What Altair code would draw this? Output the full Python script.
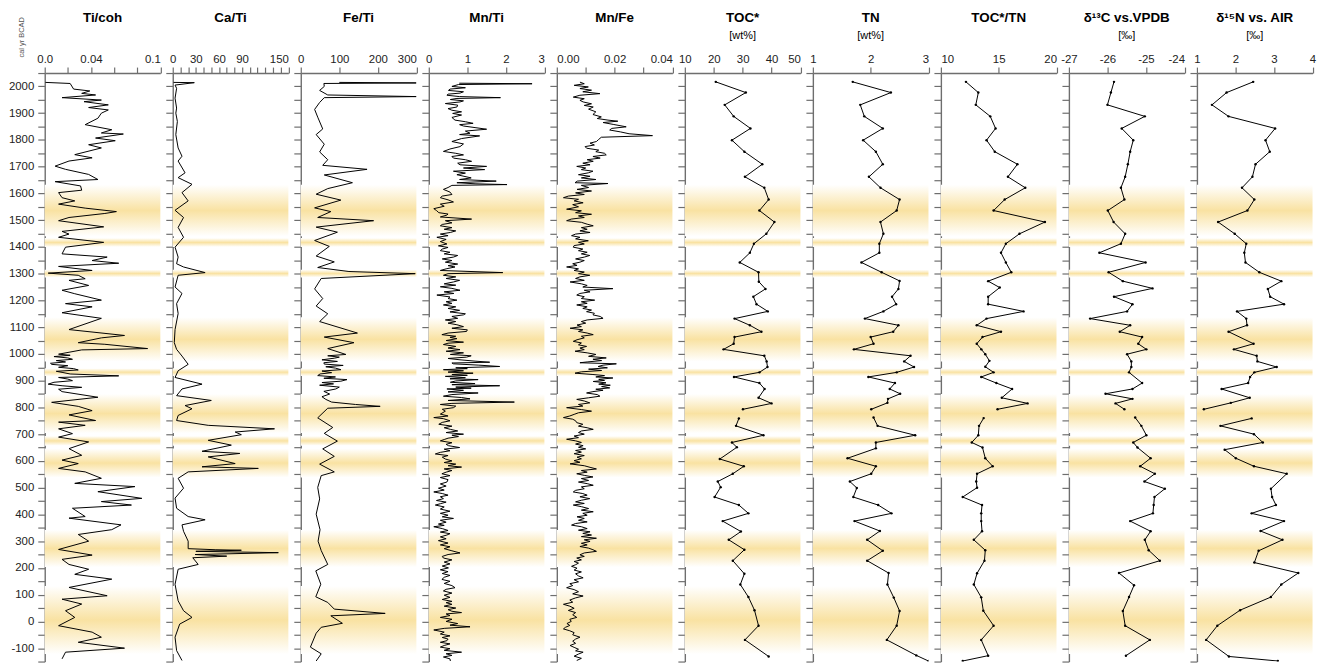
import altair as alt
import pandas as pd

FONT = "Arial"
W = 116.5
H = 593
Y_DOMAIN = [-150, 2050]
AXIS_GREY = "#6e6e6e"
BAND_COLOR = "#f9e2a2"

# ---------------- background bands (cal yr) ----------------
band_start = [1632, 1433, 1315, 1137, 946, 850, 693, 646, 342, 132]
band_end = [1440, 1400, 1286, 972, 917, 704, 657, 538, 203, -122]

# ---------------- high resolution series ----------------
ti_coh_year = [2015, 2011, 1990, 1983, 1974, 1968, 1958, 1949, 1943, 1931, 1921, 1912, 1900, 1881, 1857, 1838,
               1826, 1822, 1807, 1797, 1782, 1770, 1745, 1733, 1721, 1702, 1690, 1671, 1652, 1644, 1628, 1612,
               1603, 1584, 1572, 1560, 1545, 1532, 1525, 1510, 1498, 1475, 1458, 1448, 1436, 1417, 1399, 1374,
               1362, 1349, 1339, 1327, 1312, 1302, 1294, 1281, 1275, 1256, 1238, 1225, 1201, 1188, 1176, 1154,
               1133, 1091, 1069, 1060, 1042, 1036, 1020, 1015, 999, 995, 990, 985, 980, 975, 970, 965, 961, 956,
               950, 945, 940, 935, 931, 925, 918, 912, 906, 900, 894, 887, 881, 875, 868, 859, 838, 819, 804,
               788, 772, 751, 745, 733, 720, 702, 689, 671, 646, 621, 603, 590, 572, 559, 535, 516, 504, 485,
               460, 448, 435, 423, 392, 386, 361, 343, 325, 300, 269, 248, 232, 213, 195, 176, 158, 127, 96, 83,
               65, 40, 15, -16, -40, -59, -78, -100, -115, -140]
ti_coh_val = [0.0006, 0.022, 0.025, 0.039, 0.032, 0.044, 0.015, 0.049, 0.034, 0.055, 0.038, 0.055, 0.049, 0.046,
              0.035, 0.058, 0.049, 0.068, 0.044, 0.061, 0.038, 0.049, 0.026, 0.041, 0.021, 0.009, 0.018, 0.038,
              0.046, 0.009, 0.031, 0.032, 0.012, 0.015, 0.026, 0.012, 0.035, 0.062, 0.052, 0.021, 0.012, 0.051,
              0.015, 0.021, 0.012, 0.051, 0.018, 0.015, 0.054, 0.041, 0.064, 0.012, 0.041, 0.003, 0.029, 0.035,
              0.021, 0.038, 0.015, 0.026, 0.049, 0.018, 0.041, 0.015, 0.049, 0.021, 0.069, 0.049, 0.029, 0.052,
              0.089, 0.032, 0.012, 0.022, 0.008, 0.020, 0.024, 0.010, 0.018, 0.005, 0.006, 0.020, 0.012, 0.025,
              0.029, 0.010, 0.015, 0.022, 0.064, 0.012, 0.020, 0.024, 0.008, 0.003, 0.015, 0.032, 0.012, 0.015,
              0.046, 0.006, 0.029, 0.041, 0.021, 0.044, 0.012, 0.035, 0.012, 0.024, 0.012, 0.038, 0.021, 0.032,
              0.015, 0.029, 0.012, 0.035, 0.049, 0.026, 0.078, 0.046, 0.084, 0.049, 0.075, 0.024, 0.035, 0.021,
              0.066, 0.058, 0.029, 0.038, 0.012, 0.041, 0.015, 0.021, 0.038, 0.026, 0.058, 0.021, 0.054, 0.015,
              0.032, 0.018, 0.026, 0.012, 0.041, 0.049, 0.029, 0.069, 0.018, 0.015]

ca_ti_year = [2015, 2014, 2005, 1993, 1956, 1919, 1900, 1869, 1820, 1770, 1739, 1721, 1677, 1659, 1634, 1603,
              1572, 1537, 1510, 1473, 1436, 1399, 1362, 1337, 1325, 1304, 1294, 1250, 1226, 1188, 1151, 1091,
              1042, 1017, 992, 961, 937, 912, 887, 869, 844, 826, 807, 795, 770, 751, 733, 720, 708, 698, 677,
              659, 636, 628, 615, 590, 578, 572, 559, 535, 498, 461, 423, 392, 380, 361, 337, 300, 272, 268,
              266, 262, 257, 250, 244, 238, 213, 195, 139, 77, 40, 15, -10, -59, -109, -146]
ca_ti_val = [1, 28, 3, 5, 3, 5, 4, 6, 4, 7, 12, 7, 16, 7, 25, 12, 20, 3, 14, 7, 14, 3, 7, 5, 14, 42, 7, 3, 12,
             5, 7, 3, 2, 5, 12, 20, 7, 3, 38, 12, 5, 50, 16, 25, 7, 5, 46, 132, 81, 89, 46, 76, 38, 87, 46, 81,
             38, 111, 20, 7, 14, 3, 5, 20, 42, 12, 14, 20, 20, 55, 89, 30, 137, 29, 70, 26, 33, 7, 3, 7, 14, 25,
             9, 3, 5, 12]

fe_ti_year = [2015, 2013, 2011, 2000, 1985, 1968, 1962, 1958, 1940, 1914, 1885, 1841, 1820, 1784, 1755, 1726,
              1705, 1690, 1669, 1640, 1618, 1597, 1575, 1546, 1532, 1510, 1498, 1474, 1455, 1424, 1402, 1366,
              1344, 1323, 1308, 1300, 1282, 1243, 1207, 1179, 1150, 1121, 1078, 1063, 1042, 1020, 998, 993, 988,
              984, 978, 972, 967, 962, 957, 952, 947, 941, 936, 930, 925, 919, 914, 909, 904, 898, 893, 888,
              883, 876, 869, 860, 850, 840, 830, 820, 811, 804, 797, 761, 725, 703, 674, 645, 617, 588, 559,
              545, 501, 458, 401, 343, 300, 265, 213, 189, 139, 92, 71, 46, 30, 21, -7, -22, -44, -96, -121, -148]
fe_ti_val = [100, 300, 60, 61, 49, 70, 300, 61, 49, 36, 44, 57, 40, 61, 49, 70, 57, 172, 61, 134, 70, 40, 104,
             36, 78, 44, 189, 40, 95, 36, 74, 40, 87, 44, 125, 297, 53, 36, 57, 40, 70, 49, 147, 61, 138, 70,
             117, 70, 100, 87, 55, 95, 60, 61, 110, 65, 90, 104, 55, 80, 50, 44, 90, 60, 120, 104, 55, 85, 49,
             100, 91, 60, 75, 55, 65, 80, 142, 206, 70, 44, 83, 61, 95, 57, 87, 49, 87, 53, 44, 49, 40, 50, 45,
             53, 70, 39, 52, 39, 70, 87, 219, 78, 108, 53, 40, 25, 53, 40]

mn_ti_year = [2012, 2010, 2007, 2000, 1995, 1990, 1985, 1980, 1975, 1971, 1967, 1962, 1958, 1955, 1951, 1946,
              1942, 1936, 1930, 1923, 1917, 1911, 1905, 1899, 1893, 1884, 1874, 1868, 1862, 1857, 1852, 1846,
              1840, 1833, 1825, 1820, 1815, 1805, 1794, 1785, 1775, 1766, 1757, 1750, 1744, 1738, 1732, 1726,
              1720, 1713, 1707, 1701, 1695, 1689, 1683, 1676, 1670, 1658, 1652, 1646, 1640, 1636, 1633, 1630,
              1622, 1615, 1605, 1596, 1590, 1584, 1576, 1568, 1560, 1552, 1543, 1536, 1528, 1523, 1519, 1512,
              1504, 1498, 1490, 1484, 1479, 1472, 1466, 1460, 1454, 1448, 1442, 1436, 1428, 1420, 1411, 1404,
              1398, 1392, 1386, 1380, 1374, 1368, 1362, 1355, 1349, 1343, 1336, 1330, 1325, 1318, 1312, 1304,
              1300, 1294, 1288, 1282, 1275, 1269, 1262, 1257, 1251, 1245, 1238, 1232, 1226, 1220, 1213, 1207,
              1201, 1195, 1189, 1183, 1176, 1170, 1163, 1157, 1150, 1146, 1140, 1133, 1127, 1121, 1115, 1109,
              1102, 1096, 1090, 1084, 1078, 1072, 1066, 1062, 1057, 1050, 1044, 1040, 1035, 1028, 1022, 1016,
              1010, 1004, 998, 993, 988, 983, 978, 973, 969, 966, 963, 958, 953, 948, 945, 941, 937, 932, 928,
              923, 920, 916, 911, 907, 904, 899, 894, 889, 885, 881, 876, 872, 869, 864, 858, 854, 848, 842,
              837, 832, 826, 820, 815, 811, 805, 799, 793, 786, 775, 768, 762, 758, 750, 744, 737, 730, 724,
              718, 712, 706, 700, 696, 691, 685, 680, 675, 668, 662, 657, 650, 644, 638, 632, 626, 620, 614,
              607, 600, 594, 588, 582, 577, 570, 564, 558, 552, 545, 538, 530, 521, 514, 506, 498, 491, 484,
              478, 472, 466, 459, 452, 446, 440, 435, 428, 420, 412, 404, 397, 391, 385, 378, 371, 364, 359,
              354, 347, 340, 334, 328, 323, 316, 309, 302, 293, 286, 279, 272, 264, 256, 250, 243, 237, 230,
              222, 215, 207, 200, 193, 186, 179, 172, 165, 157, 150, 142, 134, 126, 120, 114, 106, 98, 90, 82,
              75, 70, 64, 57, 50, 44, 38, 33, 28, 22, 15, 8, 0, -8, -14, -20, -26, -32, -40, -47, -54, -60, -66,
              -72, -78, -84, -90, -96, -102, -108, -115, -121, -127, -133, -140, -148]
mn_ti_val = [0.79, 2.68, 0.77, 0.6, 0.95, 0.55, 0.51, 0.9, 0.81, 0.5, 0.47, 0.8, 1.86, 0.73, 0.56, 0.9, 0.81,
             0.43, 0.75, 0.73, 0.5, 0.6, 0.85, 0.62, 0.85, 0.6, 0.68, 0.95, 1.15, 0.8, 0.9, 1.2, 1.5, 0.95, 1.07,
             0.8, 1.32, 0.85, 0.6, 0.9, 0.81, 0.55, 0.38, 0.7, 0.9, 0.6, 0.64, 0.95, 1.11, 0.75, 0.81, 1.5, 0.9,
             1.45, 0.64, 0.95, 0.73, 1.1, 0.8, 1.75, 0.73, 1.2, 2.03, 0.6, 0.5, 0.38, 0.55, 0.6, 0.35, 0.3, 0.5,
             0.64, 0.3, 0.4, 0.13, 0.2, 0.26, 0.5, 0.47, 0.3, 1.11, 0.43, 0.6, 0.35, 0.3, 0.6, 0.4, 0.7, 0.56,
             0.3, 0.5, 0.21, 0.45, 0.3, 0.47, 0.25, 0.5, 0.35, 0.3, 0.55, 0.4, 0.75, 0.64, 0.35, 0.6, 0.43, 0.75,
             0.5, 0.68, 0.45, 0.3, 1.92, 0.5, 0.38, 0.7, 0.45, 0.8, 0.64, 0.4, 0.7, 0.3, 0.6, 0.81, 0.4, 0.65,
             0.21, 0.55, 0.5, 0.73, 0.45, 0.6, 0.38, 0.7, 0.5, 0.8, 0.55, 0.95, 0.9, 0.6, 0.75, 0.43, 0.7, 0.5,
             0.73, 0.9, 0.6, 1.0, 0.98, 0.5, 0.34, 0.7, 0.55, 0.73, 0.45, 0.9, 0.5, 0.38, 0.7, 0.5, 0.81, 0.45,
             0.9, 0.56, 1.1, 0.98, 0.5, 0.81, 1.2, 1.58, 0.6, 0.64, 1.3, 1.84, 0.7, 1.0, 0.38, 0.9, 0.5, 1.15,
             0.6, 1.0, 0.43, 0.95, 0.55, 1.28, 0.7, 0.56, 1.2, 0.6, 1.84, 0.7, 1.1, 0.47, 0.9, 0.5, 1.28, 0.6,
             0.38, 0.85, 1.07, 0.5, 2.22, 0.6, 0.3, 0.7, 0.64, 0.35, 0.43, 0.3, 0.5, 0.13, 0.38, 0.55, 0.35,
             0.26, 0.6, 0.4, 0.56, 0.75, 0.45, 0.9, 0.6, 0.77, 0.5, 0.4, 0.3, 0.6, 0.45, 0.51, 0.8, 0.4, 0.55,
             0.3, 0.17, 0.5, 0.35, 0.43, 0.6, 0.4, 0.7, 0.5, 0.85, 0.4, 0.6, 0.45, 0.34, 0.55, 0.3, 0.5, 0.47,
             0.3, 0.45, 0.25, 0.4, 0.13, 0.35, 0.5, 0.3, 0.38, 0.2, 0.45, 0.3, 0.17, 0.4, 0.3, 0.55, 0.3, 0.5,
             0.35, 0.64, 0.3, 0.45, 0.25, 0.4, 0.13, 0.35, 0.5, 0.3, 0.55, 0.47, 0.3, 0.45, 0.25, 0.5, 0.3,
             0.55, 0.4, 0.6, 0.81, 0.5, 0.35, 0.38, 0.6, 0.4, 0.55, 0.35, 0.51, 0.3, 0.5, 0.35, 0.55, 0.4, 0.34,
             0.55, 0.4, 0.6, 0.68, 0.45, 0.38, 0.6, 0.4, 0.55, 0.35, 0.6, 0.45, 0.6, 0.4, 0.7, 0.5, 0.6, 0.85,
             0.45, 0.55, 0.3, 0.6, 0.45, 0.75, 0.55, 1.07, 0.4, 0.13, 0.4, 0.3, 0.55, 0.35, 0.5, 0.47, 0.3, 0.55,
             0.4, 0.3, 0.55, 0.4, 0.85, 0.45, 0.6, 0.38, 0.55, 0.56]

mn_fe_year = [2016, 2010, 2004, 1998, 1992, 1986, 1980, 1973, 1967, 1960, 1954, 1948, 1942, 1935, 1929, 1923,
              1915, 1905, 1895, 1886, 1880, 1874, 1870, 1865, 1858, 1849, 1843, 1837, 1830, 1823, 1816, 1810,
              1802, 1794, 1788, 1781, 1775, 1769, 1762, 1756, 1750, 1744, 1738, 1732, 1726, 1720, 1713, 1707,
              1701, 1695, 1689, 1683, 1677, 1670, 1664, 1658, 1652, 1646, 1640, 1637, 1630, 1622, 1615, 1609,
              1602, 1596, 1590, 1584, 1578, 1572, 1565, 1558, 1550, 1541, 1535, 1528, 1522, 1516, 1510, 1504,
              1498, 1492, 1485, 1479, 1472, 1466, 1460, 1454, 1448, 1442, 1436, 1430, 1423, 1417, 1411, 1405,
              1399, 1392, 1386, 1380, 1374, 1368, 1362, 1355, 1349, 1343, 1337, 1331, 1325, 1318, 1312, 1306,
              1300, 1294, 1288, 1282, 1275, 1269, 1262, 1256, 1250, 1244, 1238, 1232, 1226, 1220, 1214, 1207,
              1201, 1195, 1189, 1183, 1176, 1170, 1164, 1158, 1152, 1146, 1140, 1133, 1127, 1121, 1115, 1108,
              1102, 1096, 1090, 1084, 1078, 1072, 1066, 1060, 1053, 1047, 1041, 1034, 1028, 1022, 1016, 1010,
              1004, 998, 991, 985, 980, 975, 970, 967, 963, 958, 953, 948, 943, 938, 933, 928, 923, 919, 914,
              910, 905, 901, 897, 892, 887, 883, 878, 873, 868, 864, 859, 854, 848, 842, 836, 830, 824, 817,
              811, 805, 799, 792, 786, 780, 774, 768, 762, 756, 750, 743, 737, 730, 724, 718, 712, 706, 700,
              693, 687, 681, 675, 669, 663, 657, 651, 645, 639, 633, 627, 620, 614, 608, 601, 595, 589, 582,
              576, 570, 564, 558, 552, 546, 540, 534, 527, 521, 515, 509, 503, 496, 490, 484, 478, 472, 466,
              459, 453, 447, 441, 435, 429, 422, 416, 410, 404, 397, 391, 385, 378, 372, 366, 360, 354, 347,
              341, 335, 329, 323, 317, 311, 305, 299, 292, 286, 280, 274, 268, 262, 256, 249, 243, 237, 230,
              224, 218, 212, 206, 199, 192, 185, 178, 170, 163, 156, 148, 141, 134, 126, 119, 111, 103, 95, 88,
              80, 72, 64, 57, 49, 41, 33, 25, 15, 8, 0, -8, -15, -22, -28, -35, -42, -50, -59, -66, -74, -82,
              -90, -97, -104, -110, -115, -122, -130, -138, -146]
mn_fe_val = [0.008, 0.0095, 0.006, 0.0109, 0.008, 0.012, 0.009, 0.0149, 0.008, 0.0057, 0.0095, 0.008, 0.0091,
             0.012, 0.0095, 0.0126, 0.011, 0.0135, 0.0125, 0.0154, 0.014, 0.0177, 0.0211, 0.016, 0.0195, 0.024,
             0.019, 0.0183, 0.022, 0.025, 0.0331, 0.0154, 0.0145, 0.0137, 0.0115, 0.013, 0.0098, 0.0103, 0.0145,
             0.0135, 0.0165, 0.0171, 0.0125, 0.015, 0.0105, 0.0126, 0.009, 0.0115, 0.0069, 0.01, 0.0085, 0.0125,
             0.0109, 0.0075, 0.0115, 0.0085, 0.0135, 0.0071, 0.0063, 0.0177, 0.0085, 0.011, 0.007, 0.012,
             0.0065, 0.0095, 0.004, 0.0023, 0.0075, 0.006, 0.0091, 0.0055, 0.0075, 0.0034, 0.0085, 0.0065,
             0.012, 0.0075, 0.0095, 0.005, 0.0034, 0.0085, 0.0105, 0.0126, 0.0085, 0.0105, 0.008, 0.0115,
             0.0065, 0.0051, 0.008, 0.0065, 0.0109, 0.0075, 0.0095, 0.006, 0.0057, 0.009, 0.0075, 0.0105,
             0.0085, 0.0114, 0.0095, 0.0065, 0.0095, 0.008, 0.0055, 0.007, 0.0034, 0.0075, 0.006, 0.0095,
             0.0075, 0.0114, 0.008, 0.0065, 0.0095, 0.0046, 0.0085, 0.0105, 0.009, 0.0194, 0.0095, 0.0115,
             0.008, 0.0069, 0.0095, 0.0085, 0.0131, 0.0085, 0.0105, 0.0069, 0.0105, 0.009, 0.012, 0.0103,
             0.013, 0.0125, 0.015, 0.016, 0.0105, 0.0085, 0.01, 0.007, 0.0085, 0.0046, 0.009, 0.0075, 0.0105,
             0.0126, 0.0085, 0.0095, 0.007, 0.0057, 0.0085, 0.0075, 0.0103, 0.008, 0.0095, 0.0063, 0.0105,
             0.0135, 0.011, 0.0171, 0.0125, 0.0155, 0.0105, 0.008, 0.0206, 0.016, 0.0143, 0.0175, 0.011,
             0.0155, 0.0085, 0.0063, 0.0125, 0.0165, 0.0135, 0.0194, 0.0145, 0.0165, 0.0126, 0.017, 0.0145,
             0.0185, 0.0155, 0.0183, 0.0135, 0.016, 0.0125, 0.0103, 0.014, 0.0149, 0.011, 0.0069, 0.0095,
             0.0114, 0.0075, 0.009, 0.0034, 0.0085, 0.012, 0.0075, 0.006, 0.0045, 0.0023, 0.0055, 0.0065,
             0.0069, 0.009, 0.0075, 0.0105, 0.0126, 0.0085, 0.0075, 0.0095, 0.006, 0.0075, 0.0034, 0.0065,
             0.0085, 0.0065, 0.0091, 0.0075, 0.01, 0.0065, 0.0085, 0.006, 0.0095, 0.007, 0.0085, 0.006, 0.008,
             0.0046, 0.0095, 0.0115, 0.0137, 0.0085, 0.0105, 0.0069, 0.0095, 0.0125, 0.0085, 0.011, 0.0075,
             0.0105, 0.0126, 0.0085, 0.0095, 0.0065, 0.0057, 0.009, 0.0105, 0.008, 0.0114, 0.0085, 0.0065,
             0.0095, 0.0057, 0.0085, 0.011, 0.0085, 0.0126, 0.009, 0.0105, 0.007, 0.0095, 0.0075, 0.0105,
             0.0065, 0.0051, 0.0085, 0.0105, 0.0075, 0.0115, 0.009, 0.012, 0.0085, 0.0137, 0.0095, 0.0115,
             0.0085, 0.0105, 0.008, 0.011, 0.0125, 0.0137, 0.0095, 0.008, 0.0095, 0.0069, 0.0085, 0.006,
             0.0075, 0.0065, 0.0051, 0.007, 0.006, 0.0085, 0.0065, 0.0075, 0.0091, 0.006, 0.0075, 0.0045,
             0.0055, 0.0034, 0.006, 0.0075, 0.0055, 0.0091, 0.0065, 0.0045, 0.0055, 0.0023, 0.0045, 0.006,
             0.004, 0.0065, 0.0055, 0.0069, 0.0045, 0.005, 0.0035, 0.0045, 0.003, 0.0023, 0.0045, 0.006, 0.0055,
             0.008, 0.0065, 0.0055, 0.0065, 0.0046, 0.006, 0.0075, 0.0065, 0.0091, 0.0075, 0.006, 0.0085,
             0.0069]

# ---------------- low resolution (discrete samples) ----------------
toc_year = [2017, 1977, 1931, 1888, 1843, 1799, 1756, 1709, 1662, 1621, 1577, 1536, 1493, 1449, 1412, 1378, 1342,
            1305, 1270, 1243, 1214, 1186, 1159, 1132, 1107, 1083, 1063, 1038, 1017, 993, 972, 951, 931, 914, 891,
            869, 836, 815, 793, 759, 731, 696, 669, 651, 607, 580, 552, 523, 502, 465, 435, 404, 375, 336, 305,
            268, 227, 178, 138, 91, 42, -16, -69, -131]
toc_val = [20.7, 31.1, 23.8, 26.9, 32.7, 26.3, 30.6, 36.8, 30.8, 37.5, 39.0, 35.8, 41.0, 38.2, 33.9, 32.5, 29.0,
           35.5, 35.6, 37.9, 33.7, 34.8, 38.7, 27.2, 32.5, 36.5, 27.2, 26.9, 23.4, 37.5, 38.3, 38.6, 35.8, 27.0,
           35.8, 37.6, 35.5, 40.0, 30.1, 28.7, 27.7, 37.2, 26.3, 28.0, 22.1, 30.4, 26.6, 21.4, 22.4, 20.3, 28.7,
           32.0, 23.1, 29.4, 25.2, 30.6, 26.6, 30.6, 29.2, 32.0, 34.1, 35.5, 30.8, 39.0]

tn_year = [2017, 1977, 1931, 1888, 1843, 1799, 1756, 1709, 1662, 1621, 1577, 1536, 1493, 1449, 1412, 1378, 1342,
           1305, 1273, 1243, 1214, 1186, 1159, 1132, 1107, 1083, 1063, 1038, 1017, 993, 972, 951, 931, 914, 891,
           869, 851, 832, 817, 793, 762, 731, 696, 669, 647, 610, 580, 552, 523, 499, 465, 435, 404, 375, 338,
           305, 264, 227, 181, 138, 89, 39, -16, -69, -127, -148]
tn_val = [1.69, 2.35, 1.82, 1.89, 2.21, 1.87, 2.09, 2.21, 1.97, 2.17, 2.50, 2.45, 2.17, 2.22, 2.15, 2.15, 1.84,
          2.19, 2.50, 2.48, 2.37, 2.44, 2.22, 1.90, 2.48, 2.39, 2.00, 2.05, 1.71, 2.69, 2.58, 2.75, 2.45, 1.96,
          2.42, 2.33, 2.51, 2.30, 2.29, 2.01, 2.05, 2.12, 2.77, 2.09, 2.09, 1.60, 2.09, 2.01, 1.64, 1.76, 1.70,
          2.13, 2.36, 1.72, 2.16, 1.94, 2.21, 1.94, 2.31, 2.29, 2.40, 2.50, 2.45, 2.28, 2.79, 3.0]

toctn_year = [2017, 1977, 1931, 1888, 1843, 1799, 1756, 1709, 1662, 1621, 1577, 1536, 1493, 1449, 1412, 1378,
              1342, 1305, 1272, 1248, 1214, 1186, 1159, 1132, 1107, 1083, 1063, 1038, 1017, 999, 974, 952, 931,
              914, 891, 869, 836, 815, 793, 760, 731, 696, 669, 650, 610, 580, 552, 523, 500, 465, 435, 404, 375,
              337, 305, 266, 227, 180, 138, 90, 40, -16, -69, -128, -148]
toctn_val = [12.17, 13.24, 13.02, 14.27, 14.73, 13.95, 14.66, 16.62, 15.80, 17.30, 15.52, 14.56, 19.0, 16.8,
             15.62, 15.2, 15.62, 16.09, 14.09, 15.09, 14.09, 14.09, 17.15, 13.95, 13.1, 15.2, 13.6, 13.1, 13.5,
             13.84, 14.2, 13.84, 14.56, 13.49, 14.8, 16.16, 15.27, 17.5, 14.9, 13.7, 13.3, 13.24, 12.67, 13.6,
             13.84, 14.48, 13.13, 13.06, 13.13, 11.89, 13.56, 13.49, 13.49, 13.56, 12.85, 13.84, 13.77, 13.13,
             12.85, 13.49, 13.67, 14.56, 13.49, 14.09, 11.89]

d13c_year = [2017, 1977, 1931, 1888, 1843, 1799, 1756, 1709, 1662, 1621, 1577, 1536, 1493, 1449, 1412, 1378,
             1342, 1305, 1272, 1245, 1214, 1186, 1159, 1132, 1107, 1083, 1063, 1038, 1017, 999, 972, 951, 931,
             891, 869, 851, 832, 815, 793, 762, 731, 696, 669, 650, 610, 580, 552, 523, 496, 465, 435, 404, 375,
             337, 305, 266, 227, 181, 135, 91, 39, -16, -69, -128]
d13c_val = [-25.83, -25.91, -26.0, -25.03, -25.63, -25.33, -25.41, -25.47, -25.54, -25.65, -25.56, -25.99,
            -25.84, -25.54, -25.65, -26.21, -25.01, -25.97, -25.6, -24.83, -25.83, -25.35, -25.49, -26.45,
            -25.41, -25.68, -25.1, -25.2, -24.99, -25.49, -25.38, -25.38, -25.44, -25.1, -25.35, -26.05, -25.35,
            -25.79, -25.56, -25.28, -25.12, -24.99, -25.33, -25.22, -24.88, -25.15, -24.77, -25.04, -24.51,
            -24.78, -24.8, -24.82, -25.41, -24.88, -25.03, -24.93, -24.64, -25.7, -25.31, -25.44, -25.6, -25.54,
            -24.9, -25.52]

d15n_year = [2017, 1977, 1931, 1888, 1843, 1799, 1756, 1709, 1662, 1621, 1577, 1536, 1493, 1449, 1412, 1378,
             1342, 1305, 1272, 1243, 1214, 1186, 1159, 1132, 1107, 1083, 1038, 1017, 993, 972, 951, 931, 914,
             891, 869, 836, 817, 793, 759, 731, 700, 669, 642, 610, 580, 552, 496, 465, 435, 404, 375, 338, 305,
             264, 220, 181, 138, 91, 42, -16, -69, -131, -148]
d15n_val = [2.46, 1.77, 1.39, 1.82, 3.03, 2.78, 2.89, 2.52, 2.44, 2.17, 2.49, 2.31, 1.55, 1.98, 2.28, 2.23, 2.26,
            2.62, 3.19, 2.84, 2.9, 3.26, 2.04, 2.28, 2.30, 1.82, 2.47, 1.96, 2.55, 2.57, 3.07, 2.49, 2.38, 2.33,
            1.64, 2.37, 1.88, 1.18, 2.42, 1.61, 2.48, 2.71, 1.72, 2.01, 2.48, 3.33, 2.92, 2.95, 3.05, 2.42, 3.26,
            2.65, 3.22, 2.6, 2.49, 3.63, 3.19, 2.92, 2.12, 1.53, 1.24, 1.83, 3.1]

GAP_YEAR = 780  # discrete record has a hiatus between ~793 and ~760

# ---------------- panel definitions ----------------
panels = [
    dict(title="Ti/coh", sub="", year=ti_coh_year, val=ti_coh_val, dom=[0, 0.1],
         ticks=[0, 0.02, 0.04, 0.06, 0.08, 0.1], labels=["0.0", "", "0.04", "", "", "0.1"],
         first="center", last="right", low=False),
    dict(title="Ca/Ti", sub="", year=ca_ti_year, val=ca_ti_val, dom=[0, 150],
         ticks=list(range(0, 151, 10)),
         labels=["0", "", "", "30", "", "", "60", "", "", "90", "", "", "", "", "", "150"],
         first="center", last="right", low=False),
    dict(title="Fe/Ti", sub="", year=fe_ti_year, val=fe_ti_val, dom=[0, 300],
         ticks=[0, 100, 200, 300], labels=["0", "100", "200", "300"],
         first="center", last="right", low=False),
    dict(title="Mn/Ti", sub="", year=mn_ti_year, val=mn_ti_val, dom=[0, 3],
         ticks=[0, 1, 2, 3], labels=["0", "1", "2", "3"],
         first="center", last="right", low=False),
    dict(title="Mn/Fe", sub="", year=mn_fe_year, val=mn_fe_val, dom=[0, 0.04],
         ticks=[0, 0.01, 0.02, 0.03, 0.04], labels=["0.00", "", "0.02", "", "0.04"],
         first="left", last="right", low=False),
    dict(title="TOC*", sub="[wt%]", year=toc_year, val=toc_val, dom=[10, 50],
         ticks=[10, 20, 30, 40, 50], labels=["10", "20", "30", "40", "50"],
         first="center", last="right", low=True),
    dict(title="TN", sub="[wt%]", year=tn_year, val=tn_val, dom=[1, 3],
         ticks=[1, 2, 3], labels=["1", "2", "3"],
         first="center", last="right", low=True),
    dict(title="TOC*/TN", sub="", year=toctn_year, val=toctn_val, dom=[10, 20],
         ticks=[10, 15, 20], labels=["10", "15", "20"],
         first="left", last="right", low=True),
    dict(title="δ¹³C vs.VPDB", sub="[‰]", year=d13c_year, val=d13c_val, dom=[-27, -24],
         ticks=[-27, -26, -25, -24], labels=["-27", "-26", "-25", "-24"],
         first="center", last="right", low=True),
    dict(title="δ¹⁵N vs. AIR", sub="[‰]", year=d15n_year, val=d15n_val, dom=[1, 4],
         ticks=[1, 2, 3, 4], labels=["1", "2", "3", "4"],
         first="center", last="center", low=True),
]

y_ticks = list(range(-150, 2051, 50))
y_scale = alt.Scale(domain=Y_DOMAIN, nice=False, zero=False)

band_df = pd.DataFrame({"start": band_start, "end": band_end})
gradient = alt.LinearGradient(
    gradient="linear", x1=0, x2=0, y1=0, y2=1,
    stops=[alt.GradientStop(color="#ffffff", offset=0),
           alt.GradientStop(color=BAND_COLOR, offset=0.5),
           alt.GradientStop(color="#ffffff", offset=1)])


def y_axis(show_labels):
    kw = dict(orient="left", values=y_ticks, title=None, grid=False, tickSize=7, tickColor=AXIS_GREY,
              tickWidth=1.2, domainColor=AXIS_GREY, domainWidth=1.4, labelFont=FONT, labelFontSize=11.5,
              labelColor="#222222", labelPadding=4, labelOverlap=False)
    if show_labels:
        kw["labelExpr"] = "datum.value % 100 == 0 ? datum.value : ''"
    else:
        kw["labels"] = False
    return alt.Axis(**kw)


def x_axis(p):
    parts = [f"abs(datum.value - ({v})) < 1e-9 ? '{lab}'" for v, lab in zip(p["ticks"], p["labels"])]
    expr = " : ".join(parts) + " : ''"
    t0, t1 = p["ticks"][0], p["ticks"][-1]
    align = {"condition": [{"test": f"abs(datum.value - ({t0})) < 1e-9", "value": p["first"]},
                           {"test": f"abs(datum.value - ({t1})) < 1e-9", "value": p["last"]}],
             "value": "center"}
    return alt.Axis(orient="top", values=p["ticks"], labelExpr=expr, title=None, grid=False, tickSize=6,
                    tickColor=AXIS_GREY, tickWidth=1.2, domainColor=AXIS_GREY, domainWidth=1.4,
                    labelFont=FONT, labelFontSize=11.5, labelColor="#222222", labelPadding=3,
                    labelOverlap=False, labelFlush=False, labelBound=False, labelAlign=align)


def text_layer(txt, y, size, weight, x=W / 2, angle=0, color="#000000"):
    return alt.Chart(pd.DataFrame({"t": [txt]})).mark_text(
        font=FONT, fontSize=size, fontWeight=weight, color=color, align="center",
        baseline="middle", angle=angle).encode(text="t:N", x=alt.value(x), y=alt.value(y))


charts = []
for k, p in enumerate(panels):
    yax = y_axis(k == 0)
    bands = alt.Chart(band_df).mark_rect(color=gradient).encode(
        y=alt.Y("start:Q", scale=y_scale, axis=yax),
        y2="end:Q",
        x=alt.value(0), x2=alt.value(W))
    n = len(p["year"])
    df = pd.DataFrame({"year": p["year"], "val": p["val"], "i": list(range(n)),
                       "seg": [0 if (not p["low"] or yy > GAP_YEAR) else 1 for yy in p["year"]]})
    if p["low"]:
        mark = alt.Chart(df).mark_line(color="black", strokeWidth=1, clip=True,
                                       point=alt.OverlayMarkDef(filled=True, size=6, color="black"))
    else:
        mark = alt.Chart(df).mark_line(color="black", strokeWidth=1, clip=True)
    line = mark.encode(
        x=alt.X("val:Q", scale=alt.Scale(domain=p["dom"], nice=False, zero=False), axis=x_axis(p)),
        y=alt.Y("year:Q", scale=y_scale, axis=yax),
        order="i:Q",
        detail="seg:N")
    layers = [bands, line, text_layer(p["title"], -55, 13.5, "bold")]
    if p["sub"]:
        layers.append(text_layer(p["sub"], -37, 11, "normal"))
    if k == 0:
        layers.append(text_layer("cal yr BCAD", -36, 7.5, "normal", x=-23, angle=270, color="#555555"))
    charts.append(alt.layer(*layers).properties(width=W, height=H))

chart = alt.hconcat(*charts, spacing=12, bounds="flush").properties(
    padding={"left": 0, "top": 1, "right": 2, "bottom": 2}
).configure_view(strokeWidth=0)

chart.save("out.html", embed_options={"renderer": "svg", "actions": False})
